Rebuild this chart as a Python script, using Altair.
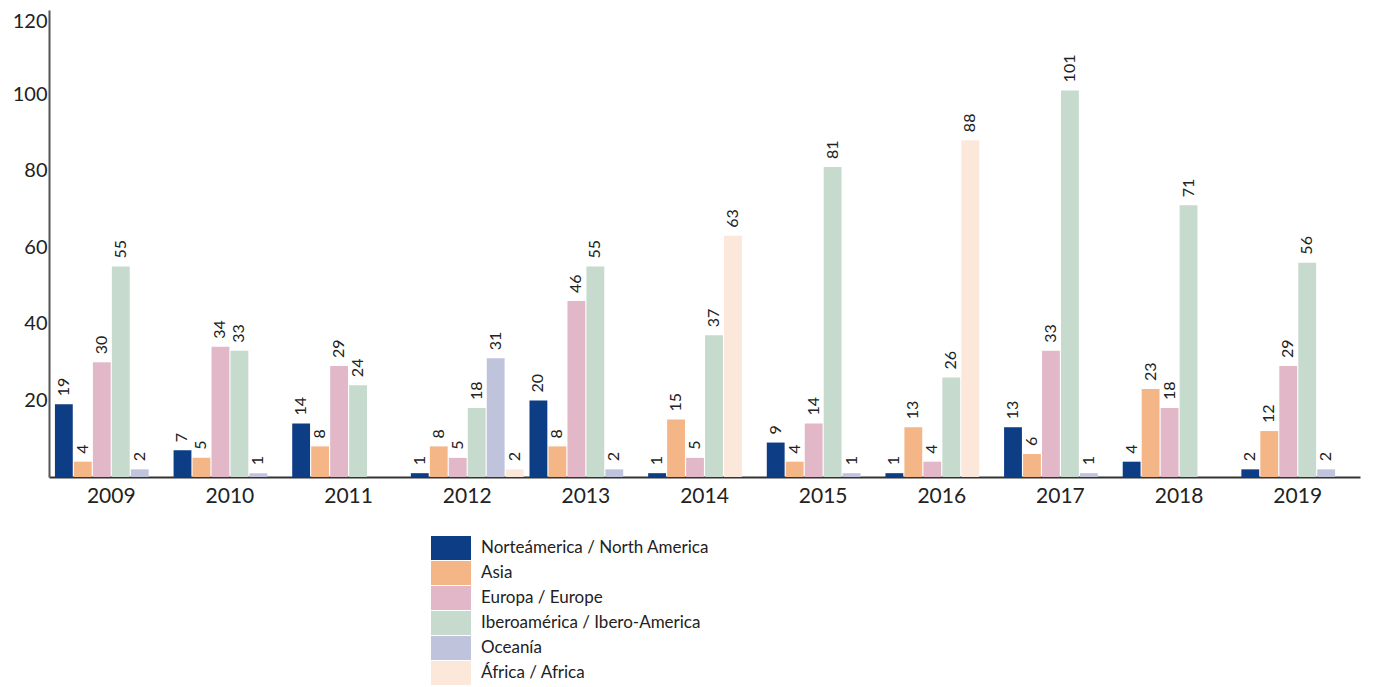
import altair as alt
import pandas as pd

years = ["2009", "2010", "2011", "2012", "2013", "2014", "2015", "2016", "2017", "2018", "2019"]
series = [
    "Norteámerica / North America",
    "Asia",
    "Europa / Europe",
    "Iberoamérica / Ibero-America",
    "Oceanía",
    "África / Africa",
]
colors = ["#0d3d85", "#f4b686", "#e2b8c8", "#c6dacd", "#bfc3dc", "#fce8da"]

north_america = [19, 7, 14, 1, 20, 1, 9, 1, 13, 4, 2]
asia = [4, 5, 8, 8, 8, 15, 4, 13, 6, 23, 12]
europe = [30, 34, 29, 5, 46, 5, 14, 4, 33, 18, 29]
ibero_america = [55, 33, 24, 18, 55, 37, 81, 26, 101, 71, 56]
oceania = [2, 1, None, 31, 2, None, 1, None, 1, None, 2]
africa = [None, None, None, 2, None, 63, None, 88, None, None, None]

all_values = [north_america, asia, europe, ibero_america, oceania, africa]

rows = []
for yi, yr in enumerate(years):
    slot = 0
    for si, s in enumerate(series):
        v = all_values[si][yi]
        if v is None:
            continue
        rows.append({"year": yr, "series": s, "value": v, "slot": slot})
        slot += 1
df = pd.DataFrame(rows)

FONT = "Lato"

base = alt.Chart(df).encode(
    x=alt.X(
        "year:N",
        sort=years,
        scale=alt.Scale(paddingInner=0.05, paddingOuter=0.05),
        axis=alt.Axis(
            title=None, labelAngle=0, ticks=False, domainColor="#333",
            domainWidth=2, labelFontSize=21, labelPadding=8,
            labelColor="#222", labelFont=FONT,
        ),
    ),
    xOffset=alt.XOffset("slot:O", scale=alt.Scale(domain=[0, 1, 2, 3, 4, 5], paddingInner=0.06)),
    y=alt.Y(
        "value:Q",
        scale=alt.Scale(domain=[0, 122], nice=False),
        axis=alt.Axis(
            title=None, values=[20, 40, 60, 80, 100, 120], ticks=False,
            grid=False, domainColor="#555", domainWidth=2,
            labelFontSize=20, labelPadding=2, labelColor="#222", labelFont=FONT,
            labelOffset={"condition": {"test": "datum.value == 120", "value": 4}, "value": 0},
        ),
    ),
)

bars = base.mark_bar().encode(
    color=alt.Color(
        "series:N",
        sort=series,
        scale=alt.Scale(domain=series, range=colors),
        legend=alt.Legend(
            title=None, orient="none", legendX=390, legendY=526,
            symbolType="M-1.667,-1L1.667,-1L1.667,1L-1.667,1Z", symbolSize=576,
            symbolStrokeWidth=0, symbolOpacity=1, labelFontSize=17, labelFont=FONT,
            labelColor="#222", rowPadding=1, labelOffset=18, padding=0,
            labelLimit=400,
        ),
    )
)

labels = base.mark_text(
    angle=270, align="left", baseline="middle", dx=8,
    fontSize=16, font=FONT, color="#222",
).encode(text="value:Q")

chart = (
    alt.layer(bars, labels)
    .properties(
        width=1311, height=467,
        autosize=alt.AutoSizeParams(type="none"),
        padding={"left": 41, "top": 2, "right": 10, "bottom": 210},
    )
    .configure_view(stroke=None)
)

chart.save("out.html", embed_options={"renderer": "svg", "actions": False})
